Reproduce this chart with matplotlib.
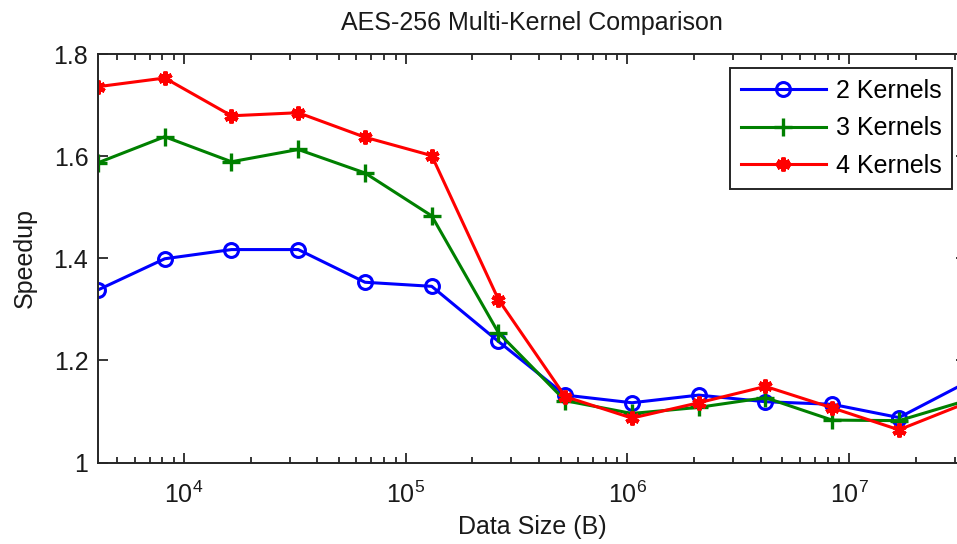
import matplotlib
matplotlib.use("Agg")
import matplotlib.pyplot as plt
from matplotlib.ticker import FixedLocator, FixedFormatter, LogLocator, NullFormatter

# Data sizes in bytes (4 KB .. 32 MB)
data_sizes = [4096, 8192, 16384, 32768, 65536, 131072, 262144, 524288,
              1048576, 2097152, 4194304, 8388608, 16777216, 33554432]

speedup_2k = [1.338, 1.399, 1.417, 1.417, 1.353, 1.345, 1.237, 1.132,
              1.117, 1.132, 1.119, 1.114, 1.088, 1.156]
speedup_3k = [1.587, 1.638, 1.589, 1.613, 1.567, 1.483, 1.254, 1.121,
              1.096, 1.108, 1.127, 1.083, 1.082, 1.121]
speedup_4k = [1.736, 1.753, 1.679, 1.685, 1.637, 1.601, 1.319, 1.129,
              1.087, 1.117, 1.149, 1.107, 1.064, 1.116]

series_labels = ["2 Kernels", "3 Kernels", "4 Kernels"]
y_ticks = [1.0, 1.2, 1.4, 1.6, 1.8]
y_tick_labels = ["1", "1.2", "1.4", "1.6", "1.8"]

plt.rcParams["font.family"] = ["Liberation Sans", "DejaVu Sans"]
plt.rcParams["mathtext.fontset"] = "custom"
plt.rcParams["mathtext.rm"] = "Liberation Sans"
plt.rcParams["mathtext.it"] = "Liberation Sans"

FS = 18
TXT = "#1a1a1a"
W, H = 957, 544
fig = plt.figure(figsize=(W / 100, H / 100), dpi=100)
ax = fig.add_axes([98 / W, 1 - 462.5 / H, (965.7 - 98) / W, (462.5 - 54) / H])

lw = 2.2
ax.plot(data_sizes, speedup_2k, color=(0, 0, 1), lw=lw, marker="o",
        ms=10, mfc="none", mew=2.2, label=series_labels[0])
ax.plot(data_sizes, speedup_3k, color=(0, 0.5, 0), lw=lw, marker="+",
        ms=13, mew=2.4, label=series_labels[1])
ax.plot(data_sizes, speedup_4k, color=(1, 0, 0), lw=lw, marker=(6, 2, 0),
        ms=10, mew=3.0, label=series_labels[2])

ax.set_xscale("log")
ax.set_xlim(data_sizes[0], data_sizes[-1])
ax.set_ylim(1.0, 1.8)
ax.yaxis.set_major_locator(FixedLocator(y_ticks))
ax.yaxis.set_major_formatter(FixedFormatter(y_tick_labels))
ax.xaxis.set_major_locator(LogLocator(base=10, numticks=20))
ax.xaxis.set_minor_locator(LogLocator(base=10, subs=range(2, 10), numticks=100))
ax.xaxis.set_minor_formatter(NullFormatter())

edge = "#262626"
for sp in ax.spines.values():
    sp.set_linewidth(1.4)
    sp.set_color(edge)
ax.tick_params(which="both", direction="in", top=True, right=True,
               colors=edge, labelcolor=TXT, labelsize=FS, width=1.3)
ax.tick_params(which="major", length=7)
ax.tick_params(which="minor", length=4.5)
ax.tick_params(axis="y", which="major", pad=7)
ax.tick_params(axis="x", which="major", pad=14)

ax.set_title("AES-256 Multi-Kernel Comparison", fontsize=FS, color=TXT, pad=17)
ax.set_xlabel("Data Size (B)", fontsize=FS, color=TXT, labelpad=5)
ax.set_ylabel("Speedup", fontsize=FS, color=TXT, labelpad=12)

leg = ax.legend(loc="upper right", bbox_to_anchor=(952 / W, 1 - 68 / H),
                bbox_transform=fig.transFigure, fontsize=FS, frameon=True,
                fancybox=False, framealpha=1, edgecolor=edge,
                handlelength=3.4, handletextpad=0.4, labelspacing=0.55,
                borderpad=0.42, borderaxespad=0)
leg.get_frame().set_linewidth(1.4)

fig.savefig("out.png", dpi=100)
